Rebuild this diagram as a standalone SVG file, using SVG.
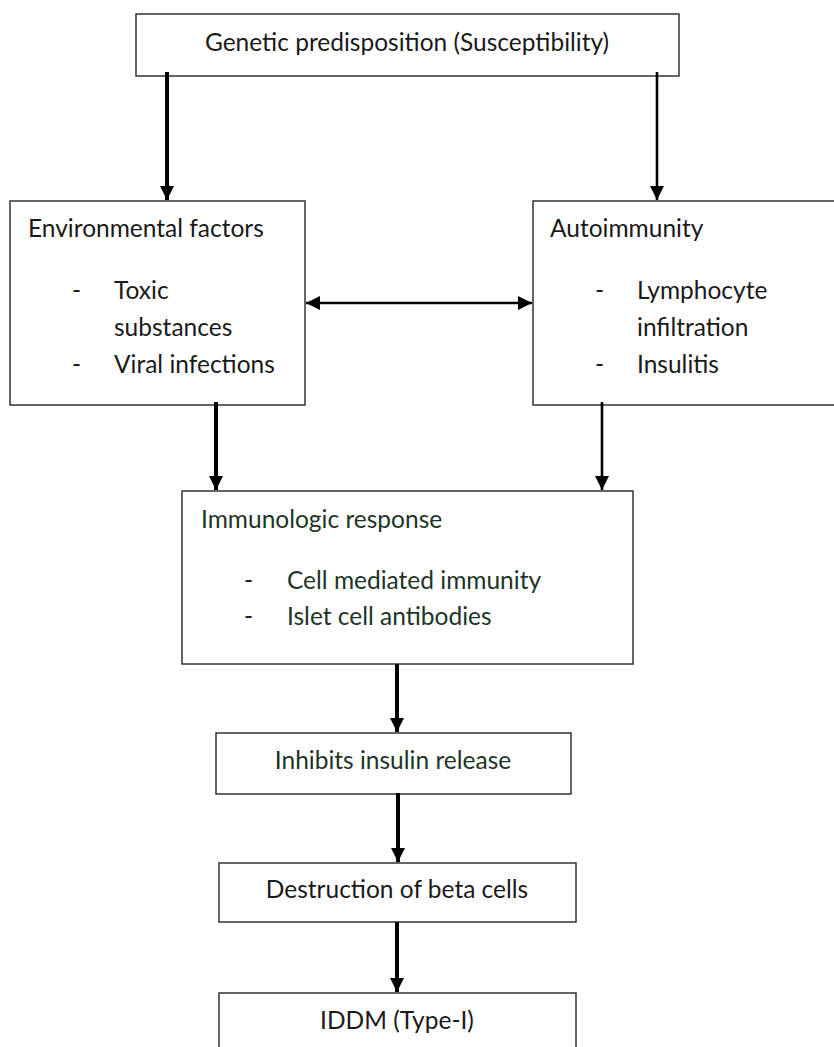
<svg xmlns="http://www.w3.org/2000/svg" width="834" height="1047" viewBox="0 0 834 1047">
<style>
.box{fill:#fff;stroke:#333;stroke-width:1.5}
.t{font-family:Lato,"Open Sans","Liberation Sans",sans-serif;font-size:24.5px;fill:#1a1a1a}
.g{fill:#1d3527}
.c{text-anchor:middle}
.thick{stroke:#000;stroke-width:4;fill:none}
.thin{stroke:#000;stroke-width:2.6;fill:none}
</style>
<defs>
<marker id="ah" markerUnits="userSpaceOnUse" viewBox="0 0 14 14" refX="14" refY="7" markerWidth="14" markerHeight="14" orient="auto-start-reverse">
<path d="M0,0 L14,7 L0,14 z" fill="#000"/>
</marker>
</defs>
<rect width="834" height="1047" fill="#fff"/>
<g id="genetic">
<rect class="box" x="136" y="14" width="543" height="62"/>
<text class="t c" x="407" y="51">Genetic predisposition (Susceptibility)</text>
</g>
<g id="environmental">
<rect class="box" x="10" y="201" width="295" height="204"/>
<text class="t" x="28" y="237">Environmental factors</text>
<text class="t" x="72" y="299">-</text>
<text class="t" x="114" y="299">Toxic</text>
<text class="t" x="114" y="336">substances</text>
<text class="t" x="72" y="373">-</text>
<text class="t" x="114" y="373">Viral infections</text>
</g>
<g id="autoimmunity">
<rect class="box" x="533" y="201" width="310" height="204"/>
<text class="t" x="550" y="237">Autoimmunity</text>
<text class="t" x="595" y="299">-</text>
<text class="t" x="637" y="299">Lymphocyte</text>
<text class="t" x="637" y="336">infiltration</text>
<text class="t" x="595" y="373">-</text>
<text class="t" x="637" y="373">Insulitis</text>
</g>
<g id="immunologic">
<rect class="box" x="182" y="491" width="451" height="173"/>
<text class="t g" x="201" y="528">Immunologic response</text>
<text class="t" x="244" y="589">-</text>
<text class="t g" x="287" y="589">Cell mediated immunity</text>
<text class="t" x="244" y="625">-</text>
<text class="t g" x="287" y="625">Islet cell antibodies</text>
</g>
<g id="inhibits">
<rect class="box" x="216" y="733" width="355" height="61"/>
<text class="t c g" x="393" y="769">Inhibits insulin release</text>
</g>
<g id="destruction">
<rect class="box" x="219" y="863" width="357" height="59"/>
<text class="t c" x="397" y="898">Destruction of beta cells</text>
</g>
<g id="iddm">
<rect class="box" x="219" y="993" width="357" height="70"/>
<text class="t c" x="397" y="1029">IDDM (Type-I)</text>
</g>
<g id="connectors">
<line class="thick" x1="167" y1="72" x2="167" y2="200" marker-end="url(#ah)"/>
<line class="thin" x1="657" y1="72" x2="657" y2="200" marker-end="url(#ah)"/>
<line class="thin" x1="306" y1="303" x2="532" y2="303" marker-start="url(#ah)" marker-end="url(#ah)"/>
<line class="thick" x1="216" y1="402" x2="216" y2="490" marker-end="url(#ah)"/>
<line class="thin" x1="602" y1="402" x2="602" y2="490" marker-end="url(#ah)"/>
<line class="thick" x1="397" y1="664" x2="397" y2="732" marker-end="url(#ah)"/>
<line class="thick" x1="398" y1="793" x2="398" y2="862" marker-end="url(#ah)"/>
<line class="thick" x1="397" y1="922" x2="397" y2="992" marker-end="url(#ah)"/>
</g>
</svg>
